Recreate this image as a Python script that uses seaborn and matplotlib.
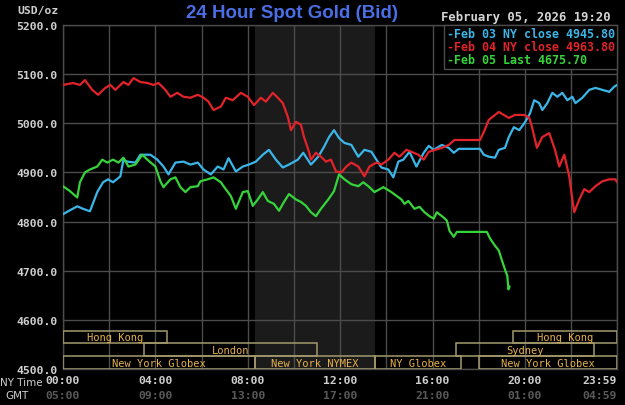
import pandas as pd
import matplotlib
matplotlib.use("Agg")
import matplotlib.pyplot as plt
from matplotlib.patches import Rectangle
from matplotlib.lines import Line2D
import seaborn as sns

# minutes after midnight (NY time) and bid price
feb03_t = [0, 18, 37, 52, 70, 89, 104, 117, 130, 149, 157, 167, 188, 201, 227, 245, 261, 274, 292, 313,
           331, 350, 365, 384, 402, 417, 430, 449, 467, 483, 501, 519, 535, 553, 571, 587, 610, 624, 644, 663,
           678, 691, 704, 717, 731, 749, 767, 783, 801, 814, 827, 845, 858, 871, 884, 900, 918, 937, 950, 963,
           984, 1002, 1015, 1028, 1083, 1093, 1106, 1122, 1132, 1148, 1158, 1171, 1185, 1200, 1213, 1224, 1237,
           1245, 1258, 1271, 1284, 1297, 1310, 1323, 1331, 1349, 1367, 1383, 1401, 1419, 1431, 1439]
feb03_v = [4815, 4823, 4831, 4826, 4821, 4860, 4880, 4886, 4880, 4892, 4926, 4922, 4920, 4936, 4936, 4926,
           4912, 4896, 4920, 4922, 4916, 4920, 4906, 4896, 4912, 4906, 4929, 4902, 4912, 4916, 4922, 4936,
           4946, 4926, 4910, 4916, 4926, 4940, 4916, 4932, 4952, 4972, 4986, 4970, 4960, 4956, 4932, 4946,
           4942, 4926, 4910, 4906, 4890, 4922, 4926, 4942, 4912, 4940, 4954, 4946, 4956, 4950, 4940, 4948,
           4948, 4936, 4932, 4930, 4946, 4950, 4972, 4992, 4986, 5002, 5020, 5047, 5041, 5027, 5041, 5062,
           5054, 5062, 5047, 5054, 5041, 5052, 5068, 5072, 5068, 5064, 5074, 5078]

feb04_t = [0, 26, 44, 57, 76, 91, 110, 123, 136, 157, 170, 183, 201, 219, 235, 248, 266, 279, 297, 313,
           331, 350, 365, 378, 391, 410, 423, 441, 462, 480, 496, 514, 527, 545, 558, 571, 584, 592, 605, 618,
           626, 639, 644, 657, 670, 683, 696, 709, 723, 736, 749, 767, 783, 796, 814, 827, 845, 861, 874, 892,
           905, 923, 937, 950, 984, 1002, 1017, 1083, 1093, 1106, 1132, 1158, 1174, 1198, 1211, 1218, 1231,
           1245, 1263, 1278, 1289, 1302, 1315, 1323, 1328, 1341, 1354, 1367, 1383, 1401, 1419, 1435, 1439]
feb04_v = [5078, 5082, 5078, 5088, 5068, 5058, 5072, 5078, 5068, 5084, 5078, 5092, 5084, 5082, 5078, 5082,
           5068, 5054, 5062, 5054, 5052, 5058, 5052, 5044, 5027, 5034, 5052, 5047, 5062, 5054, 5037, 5052,
           5044, 5062, 5052, 5041, 5013, 4986, 5003, 4997, 4972, 4942, 4926, 4940, 4932, 4922, 4926, 4902,
           4900, 4912, 4920, 4912, 4892, 4912, 4920, 4916, 4926, 4940, 4932, 4946, 4942, 4936, 4926, 4942,
           4950, 4956, 4966, 4966, 4982, 5007, 5023, 5011, 5017, 5017, 5011, 4993, 4950, 4972, 4980, 4946,
           4912, 4936, 4892, 4845, 4819, 4845, 4866, 4860, 4872, 4882, 4886, 4886, 4880]

feb05_t = [0, 18, 37, 44, 57, 70, 89, 102, 115, 130, 144, 157, 170, 188, 206, 219, 240, 253, 261, 279,
           292, 305, 318, 331, 350, 357, 376, 391, 410, 417, 436, 449, 467, 480, 493, 506, 519, 532, 548, 561,
           574, 587, 605, 618, 631, 644, 657, 670, 689, 704, 717, 731, 749, 767, 780, 796, 809, 832, 853, 879,
           887, 897, 913, 926, 939, 952, 963, 971, 989, 997, 1004, 1015, 1023, 1101, 1109, 1122, 1132, 1141,
           1150, 1154, 1157, 1160]
feb05_v = [4872, 4862, 4849, 4880, 4900, 4906, 4912, 4926, 4920, 4926, 4920, 4930, 4912, 4916, 4936, 4926,
           4912, 4882, 4870, 4886, 4890, 4870, 4860, 4870, 4872, 4882, 4886, 4890, 4880, 4872, 4852, 4826,
           4860, 4862, 4832, 4845, 4860, 4842, 4836, 4822, 4840, 4856, 4845, 4840, 4832, 4819, 4811, 4826,
           4845, 4862, 4896, 4886, 4876, 4872, 4880, 4870, 4860, 4870, 4860, 4845, 4836, 4842, 4826, 4830,
           4819, 4811, 4806, 4819, 4808, 4802, 4781, 4769, 4779, 4779, 4766, 4751, 4741, 4719, 4698, 4690,
           4662, 4668]

series_names = ["Feb 03 NY close", "Feb 04 NY close", "Feb 05 Last"]
series_last = ["4945.80", "4963.80", "4675.70"]
series_colors = ["#3ab6e8", "#e2232a", "#36d43a"]

ny_ticks = [0, 240, 480, 720, 960, 1200, 1439]
ny_labels = ["00:00", "04:00", "08:00", "12:00", "16:00", "20:00", "23:59"]
gmt_labels = ["05:00", "09:00", "13:00", "17:00", "21:00", "01:00", "04:59"]
price_ticks = [4500, 4600, 4700, 4800, 4900, 5000, 5100, 5200]

# trading sessions strip (row 0 = top)
sessions = ["Hong Kong", "London", "New York Globex", "New York NYMEX", "NY Globex",
            "Sydney", "Hong Kong", "New York Globex"]
session_start = [0, 210, 0, 500, 810, 1020, 1170, 1080]
session_end = [270, 660, 500, 810, 1035, 1380, 1439, 1439]
session_row = [0, 1, 2, 2, 2, 1, 0, 2]
nymex_open, nymex_close = 500, 810

frames = []
for name, t, v in zip(series_names, [feb03_t, feb04_t, feb05_t], [feb03_v, feb04_v, feb05_v]):
    frames.append(pd.DataFrame({"minute": t, "price": v, "day": name}))
df = pd.concat(frames, ignore_index=True)

sns.set_style("dark")
mono = "DejaVu Sans Mono"
grid_col = "#4c4c4c"

fig = plt.figure(figsize=(6.25, 4.06), dpi=100, facecolor="black")
ax = fig.add_axes([63 / 625, 1 - 370 / 406, 554 / 625, 344 / 406])
ax.set_facecolor("black")

ax.axvspan(nymex_open, nymex_close, color="#1b1b1b", zorder=0, lw=0)

sns.lineplot(data=df, x="minute", y="price", hue="day", palette=series_colors,
             estimator=None, sort=False, linewidth=1.6, legend=False, ax=ax, zorder=3)

ax.set_xlim(0, 1439)
ax.set_ylim(4500, 5200)
ax.set_xticks(ny_ticks, ny_labels)
ax.set_xticks(list(range(120, 1440, 240)), minor=True)
ax.set_yticks(price_ticks, [f"{p:.1f}" for p in price_ticks])
ax.grid(True, which="both", color=grid_col, lw=1, zorder=1)
ax.tick_params(which="both", length=0, colors="#cfcfcf", labelsize=8.2, pad=4)
for lab in ax.get_xticklabels() + ax.get_yticklabels():
    lab.set_family(mono)
    lab.set_weight("bold")
ax.get_xticklabels()[-1].set_ha("right")
ax.set_xlabel("")
ax.set_ylabel("")
for sp in ax.spines.values():
    sp.set_color(grid_col)
    sp.set_linewidth(1)

# session strip
row_h = 26
for name, s, e, r in zip(sessions, session_start, session_end, session_row):
    base = 4500 + (2 - r) * row_h
    ax.add_patch(Rectangle((s, base), e - s, row_h, fill=False, ec="#a49a6c", lw=1.1, zorder=4))
    ax.text((s + e) / 2, base + row_h / 2, name, color="#e6b24a", fontsize=7.5, family=mono,
            ha="center", va="center", zorder=5)

# GMT row under NY times
for t, g in zip(ny_ticks, gmt_labels):
    ax.text(t, -0.077, g, transform=ax.get_xaxis_transform(), color="#5a5a5a", fontsize=8.2,
            family=mono, weight="bold", ha="right" if t == ny_ticks[-1] else "center", va="center")

fig.text(0 / 625, 1 - 383 / 406, "NY Time", color="#cfcfcf", fontsize=7.5, family="DejaVu Sans",
         ha="left", va="center")
fig.text(17 / 625, 1 - 396 / 406, "GMT", color="#cfcfcf", fontsize=7.5, family="DejaVu Sans",
         ha="center", va="center")
fig.text(38 / 625, 1 - 11 / 406, "USD/oz", color="#cfcfcf", fontsize=8.2, family=mono,
         weight="bold", ha="center", va="center")

fig.text(292 / 625, 1 - 14 / 406, "24 Hour Spot Gold (Bid)", color="#4a6ee6", fontsize=13.5,
         family="Liberation Sans", weight="bold", ha="center", va="center")
fig.text(526 / 625, 1 - 17 / 406, "February 05, 2026 19:20", color="#d6d6d6", fontsize=8.8,
         family=mono, weight="bold", ha="center", va="center")

handles = [Line2D([], [], color=c) for c in series_colors]
labels = [f"-{n} {v}" for n, v in zip(series_names, series_last)]
leg = ax.legend(handles, labels, loc="upper right", bbox_to_anchor=(1, 1), borderaxespad=0,
                handlelength=0, handletextpad=0, labelspacing=0.0, borderpad=0.2,
                labelcolor=series_colors, frameon=True, fancybox=False, facecolor="black",
                edgecolor=grid_col, framealpha=1, prop={"family": mono, "weight": "bold", "size": 8.4})
leg.set_zorder(6)
leg.get_frame().set_linewidth(1)

fig.savefig("out.png", dpi=100, facecolor="black")
